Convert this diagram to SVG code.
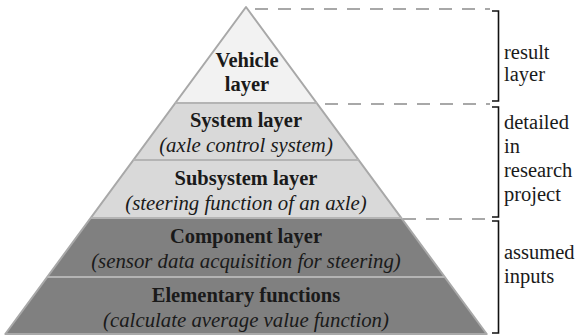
<svg xmlns="http://www.w3.org/2000/svg" width="578" height="336" viewBox="0 0 578 336">
<style>
.b{font-family:"Liberation Serif","Times New Roman",serif;font-weight:bold;font-size:20.5px;fill:#1a1a1a;text-anchor:middle}
.i{font-family:"Liberation Serif","Times New Roman",serif;font-style:italic;font-size:20.8px;fill:#1a1a1a;text-anchor:middle}
.r{font-family:"Liberation Serif","Times New Roman",serif;font-size:20.5px;fill:#1a1a1a}
.sep{stroke:#b4b4b4;stroke-width:2}
.dash{stroke:#a8a8a8;stroke-width:2;stroke-dasharray:13 10;fill:none}
.br{stroke:#111;stroke-width:1.6;fill:none}
</style>
<rect width="578" height="336" fill="#fff"/>
<g id="vehicle">
<polygon points="246,7 316.7,103 175.3,103" fill="#f2f2f2"/>
<text class="b" x="247" y="67">Vehicle</text>
<text class="b" x="247" y="91">layer</text>
</g>
<g id="system">
<polygon points="175.3,103 316.7,103 358.6,160 133.4,160" fill="#d9d9d9"/>
<text class="b" x="246" y="127">System layer</text>
<text class="i" x="246" y="152">(axle control system)</text>
</g>
<g id="subsystem">
<polygon points="133.4,160 358.6,160 401.3,218 90.7,218" fill="#d9d9d9"/>
<text class="b" x="246" y="185">Subsystem layer</text>
<text class="i" x="246" y="210">(steering function of an axle)</text>
</g>
<g id="component">
<polygon points="90.7,218 401.3,218 444.7,277 47.3,277" fill="#808080"/>
<text class="b" x="246" y="243">Component layer</text>
<text class="i" x="246" y="268">(sensor data acquisition for steering)</text>
</g>
<g id="elementary">
<polygon points="47.3,277 444.7,277 486.7,334 5.3,334" fill="#808080"/>
<text class="b" x="246" y="302">Elementary functions</text>
<text class="i" x="246" y="327">(calculate average value function)</text>
</g>
<g id="outline">
<polygon points="246,7 486.7,334 5.3,334" fill="none" stroke="#a8a8a8" stroke-width="2" stroke-linejoin="round"/>
<line class="sep" x1="175.3" y1="103" x2="316.7" y2="103"/>
<line class="sep" x1="133.4" y1="160" x2="358.6" y2="160"/>
<line class="sep" x1="90.7" y1="218" x2="401.3" y2="218"/>
<line class="sep" x1="47.3" y1="277" x2="444.7" y2="277"/>
</g>
<g id="connectors">
<line class="dash" x1="255" y1="9" x2="490" y2="9"/>
<line class="dash" x1="325" y1="104" x2="490" y2="104"/>
<line class="dash" x1="403" y1="219" x2="490" y2="219"/>
<path class="br" d="M492,11 H498.5 V101 H492"/>
<path class="br" d="M492,107 H498.5 V217 H492"/>
<path class="br" d="M492,221 H498.5 V333 H492"/>
</g>
<g id="labels">
<text class="r" x="504" y="59">result</text>
<text class="r" x="504" y="81">layer</text>
<text class="r" x="504" y="129">detailed</text>
<text class="r" x="504" y="153">in</text>
<text class="r" x="504" y="177">research</text>
<text class="r" x="504" y="201">project</text>
<text class="r" x="504" y="259">assumed</text>
<text class="r" x="504" y="283">inputs</text>
</g>
</svg>
